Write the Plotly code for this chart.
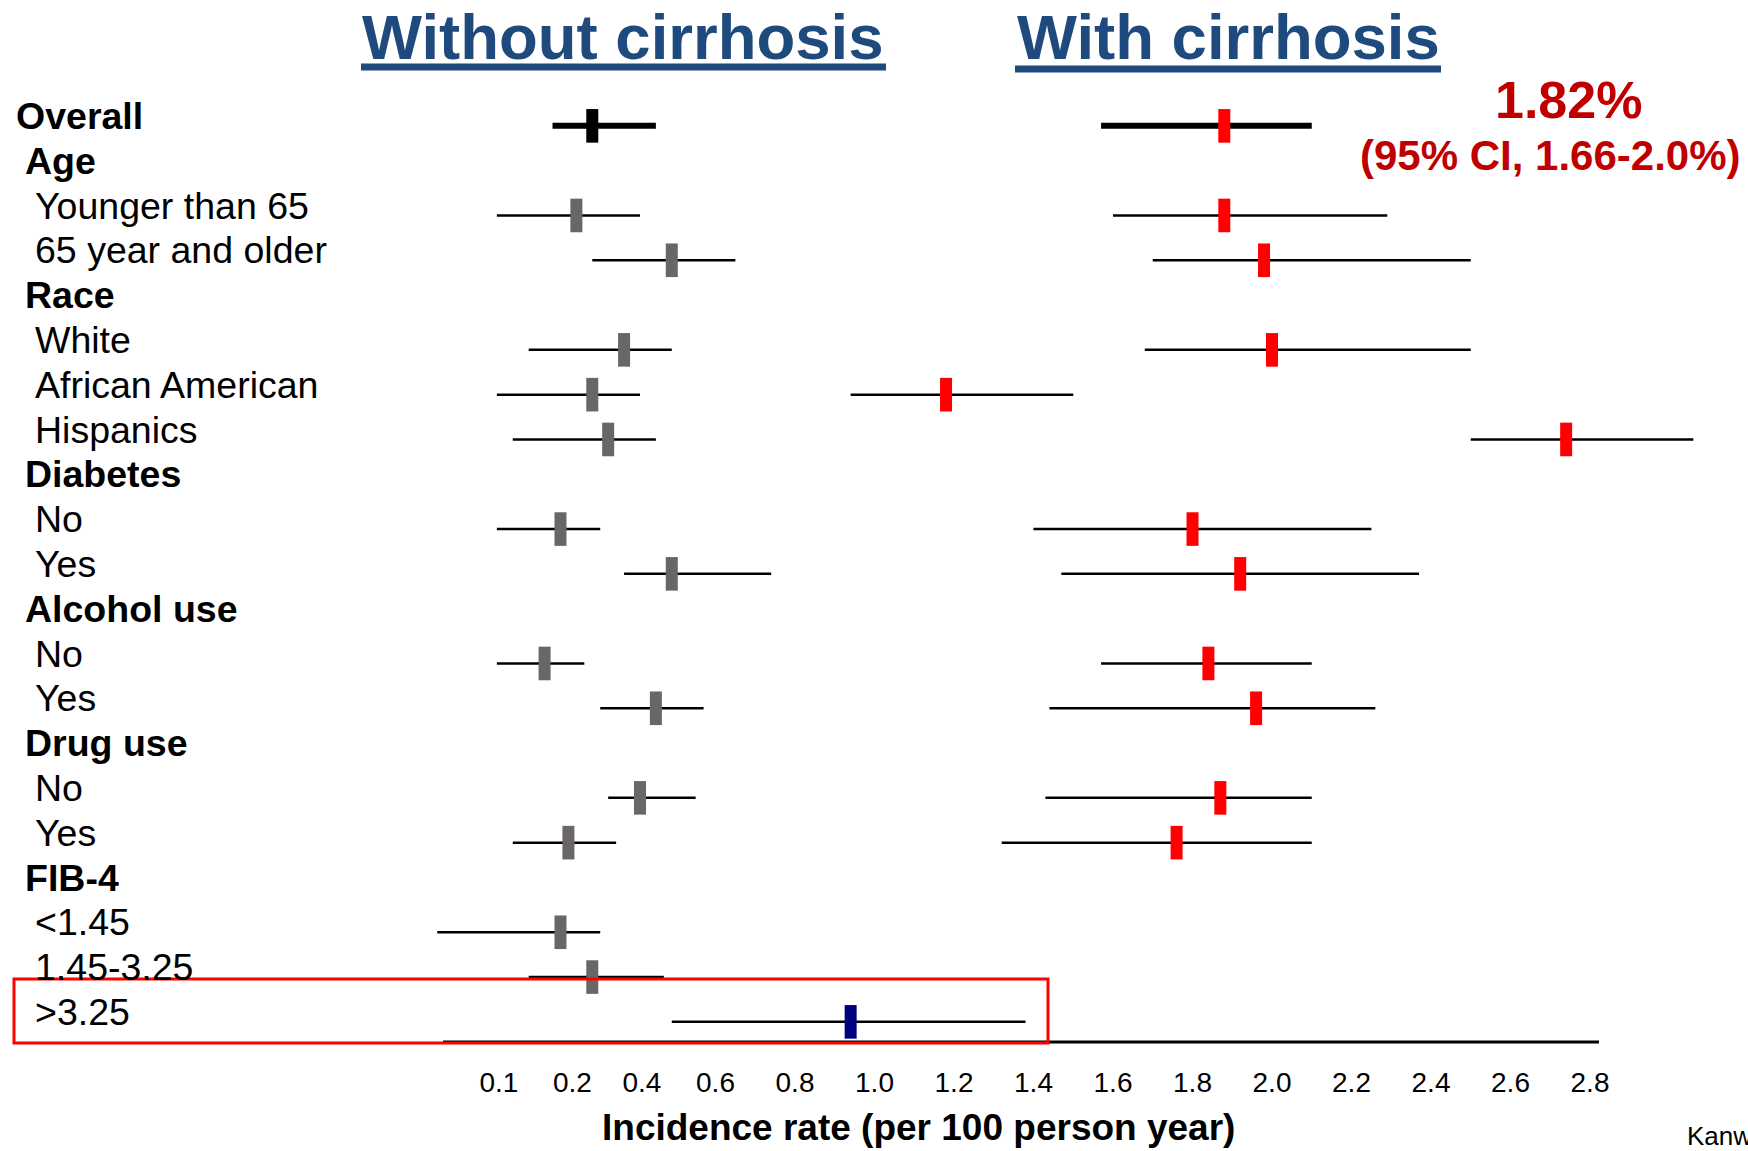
import plotly.graph_objects as go

# ---------------- data ----------------
row_labels = ["Overall", "Age", "Younger than 65", "65 year and older", "Race", "White",
              "African American", "Hispanics", "Diabetes", "No", "Yes", "Alcohol use", "No", "Yes",
              "Drug use", "No", "Yes", "FIB-4", "<1.45", "1.45-3.25", ">3.25"]
row_kind = ["total", "header", "item", "item", "header", "item", "item", "item", "header", "item",
            "item", "header", "item", "item", "header", "item", "item", "header", "item", "item", "item"]
highlight_label = ">3.25"

# Without cirrhosis (incidence rate per 100 person-years, 95% CI)
no_cirr_est = [0.29, None, 0.25, 0.49, None, 0.37, 0.29, 0.33, None, 0.21, 0.49, None, 0.17, 0.45,
               None, 0.41, 0.23, None, 0.21, 0.29, 0.94]
no_cirr_lo = [0.19, None, 0.05, 0.29, None, 0.13, 0.05, 0.09, None, 0.05, 0.37, None, 0.05, 0.31,
              None, 0.33, 0.09, None, -0.10, 0.13, 0.49]
no_cirr_hi = [0.45, None, 0.41, 0.65, None, 0.49, 0.41, 0.45, None, 0.31, 0.74, None, 0.27, 0.57,
              None, 0.55, 0.35, None, 0.31, 0.47, 1.38]

# With cirrhosis
cirr_est = [1.88, None, 1.88, 1.98, None, 2.00, 1.18, 2.74, None, 1.80, 1.92, None, 1.84, 1.96,
            None, 1.87, 1.76, None, None, None, None]
cirr_lo = [1.57, None, 1.60, 1.70, None, 1.68, 0.94, 2.50, None, 1.40, 1.47, None, 1.57, 1.44,
           None, 1.43, 1.32, None, None, None, None]
cirr_hi = [2.10, None, 2.29, 2.50, None, 2.50, 1.50, 3.06, None, 2.25, 2.37, None, 2.10, 2.26,
           None, 2.10, 2.10, None, None, None, None]

# tick labels, and where the original slide prints them along the (linear) axis
tick_text = ["0.1", "0.2", "0.4", "0.6", "0.8", "1.0", "1.2", "1.4", "1.6", "1.8", "2.0",
             "2.2", "2.4", "2.6", "2.8"]
tick_at = [0.055, 0.24, 0.415, 0.6, 0.8, 1.0, 1.2, 1.4, 1.6, 1.8, 2.0, 2.2, 2.4, 2.6, 2.8]

overall_text = "1.82%"
overall_ci_text = "(95% CI, 1.66-2.0%)"

# ---------------- styling ----------------
W, H = 1748, 1151
FONT = "Liberation Sans, Arial, sans-serif"
TITLE_BLUE = "#1F4A7E"
DARK_RED = "#C00000"
GRAY = "#6A6666"
RED = "#FF0000"
NAVY = "#000080"
MARK_SHIFT = 0.22
PLOT_BOTTOM = 1042  # px of x-axis line
ROW0_PX, ROW_STEP = 116, 44.8


def px_x(p):
    return p / W


def px_y(p):
    return 1 - p / PLOT_BOTTOM


fig = go.Figure()


def add_panel(est, lo, hi, rows, colors, thickness):
    if not rows:
        return
    fig.add_trace(go.Scatter(
        x=[est[i] for i in rows],
        y=[i + MARK_SHIFT for i in rows],
        mode="markers",
        error_x=dict(type="data", symmetric=False,
                     array=[hi[i] - est[i] for i in rows],
                     arrayminus=[est[i] - lo[i] for i in rows],
                     thickness=thickness, width=0, color="black"),
        marker=dict(symbol="line-ns", size=24, color=colors,
                    line=dict(width=12, color=colors)),
        cliponaxis=False, hoverinfo="skip"))


def rows_with(vals, kind_is_total):
    return [i for i, v in enumerate(vals) if v is not None and (row_kind[i] == "total") == kind_is_total]


# without cirrhosis
r = rows_with(no_cirr_est, True)
add_panel(no_cirr_est, no_cirr_lo, no_cirr_hi, r, ["black"] * len(r), 6)
r = rows_with(no_cirr_est, False)
add_panel(no_cirr_est, no_cirr_lo, no_cirr_hi, r,
          [NAVY if row_labels[i] == highlight_label else GRAY for i in r], 2.5)
# with cirrhosis
r = rows_with(cirr_est, True)
add_panel(cirr_est, cirr_lo, cirr_hi, r, [RED] * len(r), 6)
r = rows_with(cirr_est, False)
add_panel(cirr_est, cirr_lo, cirr_hi, r, [RED] * len(r), 2.5)

annotations = []
indent = {"total": 14, "header": 23, "item": 33}
for i, (lab, kind) in enumerate(zip(row_labels, row_kind)):
    txt = lab if kind == "item" else f"<b>{lab}</b>"
    annotations.append(dict(text=txt, x=px_x(indent[kind]), xref="paper", y=i, yref="y",
                            xanchor="left", yanchor="middle", showarrow=False,
                            font=dict(family=FONT, size=37.5, color="black")))

annotations += [
    dict(text="<b>Without cirrhosis</b>", x=px_x(623), y=px_y(37), xref="paper", yref="paper",
         xanchor="center", yanchor="middle", showarrow=False,
         font=dict(family=FONT, size=63.5, color=TITLE_BLUE)),
    dict(text="<b>With cirrhosis</b>", x=px_x(1228), y=px_y(37), xref="paper", yref="paper",
         xanchor="center", yanchor="middle", showarrow=False,
         font=dict(family=FONT, size=63.5, color=TITLE_BLUE)),
    dict(text=f"<b>{overall_text}</b>", x=px_x(1568), y=px_y(100), xref="paper", yref="paper",
         xanchor="center", yanchor="middle", showarrow=False,
         font=dict(family=FONT, size=52, color=DARK_RED)),
    dict(text=f"<b>{overall_ci_text}</b>", x=px_x(1550), y=px_y(156), xref="paper", yref="paper",
         xanchor="center", yanchor="middle", showarrow=False,
         font=dict(family=FONT, size=42, color=DARK_RED)),
    dict(text="<b>Incidence rate (per 100 person year)</b>", x=px_x(918), y=px_y(1127),
         xref="paper", yref="paper", xanchor="center", yanchor="middle", showarrow=False,
         font=dict(family=FONT, size=37, color="black")),
    dict(text="Kanwal et al.", x=px_x(1685), y=px_y(1136), xref="paper", yref="paper",
         xanchor="left", yanchor="middle", showarrow=False,
         font=dict(family=FONT, size=26, color="black")),
]

shapes = [
    # title underlines
    dict(type="line", xref="paper", yref="paper", x0=px_x(361), x1=px_x(886), y0=px_y(67), y1=px_y(67),
         line=dict(color=TITLE_BLUE, width=7)),
    dict(type="line", xref="paper", yref="paper", x0=px_x(1015), x1=px_x(1441), y0=px_y(69), y1=px_y(69),
         line=dict(color=TITLE_BLUE, width=7)),
    # axis line
    dict(type="line", xref="paper", yref="paper", x0=px_x(443), x1=px_x(1599), y0=0, y1=0,
         line=dict(color="black", width=3)),
    # highlight box
    dict(type="rect", xref="paper", yref="paper", x0=px_x(14), x1=px_x(1048), y0=px_y(1043), y1=px_y(979),
         line=dict(color=RED, width=3), fillcolor="rgba(0,0,0,0)"),
]

x_lo = 0.8 + (0 - 795) / 397.5
x_hi = 0.8 + (W - 795) / 397.5
y_bottom = (PLOT_BOTTOM - ROW0_PX) / ROW_STEP
y_top = -ROW0_PX / ROW_STEP

fig.update_layout(
    width=W, height=H,
    margin=dict(l=0, r=0, t=0, b=H - PLOT_BOTTOM, pad=0),
    paper_bgcolor="white", plot_bgcolor="white",
    showlegend=False,
    font=dict(family=FONT, color="black"),
    xaxis=dict(range=[x_lo, x_hi], tickvals=tick_at, ticktext=tick_text, ticks="",
               showgrid=False, zeroline=False, showline=False,
               tickfont=dict(family=FONT, size=28, color="black"), ticklabelstandoff=21,
               fixedrange=True),
    yaxis=dict(range=[y_bottom, y_top], visible=False, fixedrange=True),
    annotations=annotations,
    shapes=shapes,
)

fig.write_html("out.html", config={"displayModeBar": False})
